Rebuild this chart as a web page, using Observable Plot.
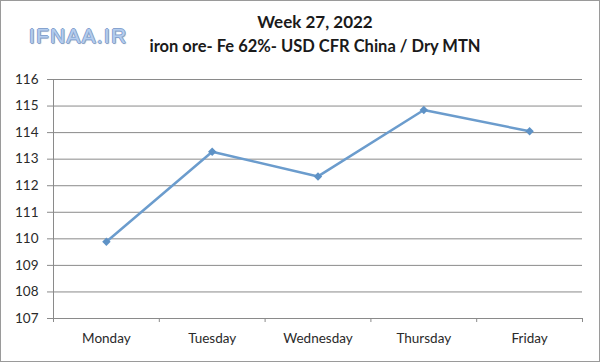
<!DOCTYPE html>
<html><head><meta charset="utf-8">
<script src="https://cdn.jsdelivr.net/npm/d3@7"></script>
<script src="https://cdn.jsdelivr.net/npm/@observablehq/plot@0.6"></script>
<style>
html,body{margin:0;padding:0;background:#fff;}
#wrap{position:relative;width:600px;height:362px;overflow:hidden;background:#fff;}
#frame{position:absolute;left:0;top:0;width:598px;height:360px;border:1px solid #9a9a9a;pointer-events:none;}
.t{position:absolute;font-family:Lato,"Open Sans",sans-serif;font-weight:bold;color:#1a1a1a;white-space:nowrap;}
#logo{position:absolute;left:29px;top:24px;font-family:"Liberation Sans",Arial,sans-serif;font-size:20.5px;color:#b4cdee;letter-spacing:1.5px;
text-shadow:-1px 0 #86a3cf,1px 0 #86a3cf,0 -1px #86a3cf,0 1px #86a3cf,1px 1px 1px #9ab;}
</style></head>
<body>
<div id="wrap">
<div id="chart"></div>
<div id="logo">IFNAA.IR</div>
<div class="t" id="title" style="left:0;width:630px;text-align:center;top:11px;font-size:17px;">Week 27, 2022</div>
<div class="t" id="sub" style="left:0;width:630px;text-align:center;top:36px;font-size:16.5px;">iron ore- Fe 62%- USD CFR China / Dry MTN</div>
<div id="frame"></div>
</div>
<script>
const days = ["Monday","Tuesday","Wednesday","Thursday","Friday"];
const prices = [109.89, 113.28, 112.35, 114.85, 114.05];
const yTicks = [107,108,109,110,111,112,113,114,115,116];

const data = days.map((d,i)=>({i, day:d, price:prices[i]}));
const idx = days.map((d,i)=>i);
const bounds = [...idx.map(i=>i-0.5), days.length-0.5];

const gray = "#8a8a8a";
const chart = Plot.plot({
  width:600, height:362,
  marginLeft:53, marginRight:18, marginTop:79, marginBottom:44,
  style:{fontFamily:"Lato, 'Open Sans', sans-serif", fontSize:"13.5px", color:"#2a2a2a", background:"transparent"},
  x:{type:"linear", domain:[-0.5, days.length-0.5]},
  y:{domain:[107,116]},
  marks:[
    Plot.gridY(yTicks.filter(v=>v>107), {stroke:gray, strokeOpacity:1, strokeWidth:1}),
    Plot.ruleY([107], {stroke:gray, strokeWidth:1}),
    Plot.ruleX([-0.5], {stroke:gray, strokeWidth:1}),
    Plot.axisY({ticks:yTicks, tickSize:6, tickPadding:9, stroke:gray, tickFormat:d=>d, label:null}),
    Plot.axisX({ticks:bounds, tickSize:4, tickFormat:()=>"", stroke:gray, label:null}),
    Plot.axisX({ticks:idx, tickSize:0, tickPadding:15, tickFormat:i=>days[i], label:null}),
    Plot.line(data, {x:"i", y:"price", stroke:"#6b9ccd", strokeWidth:2.5}),
    Plot.dot(data, {x:"i", y:"price", symbol:"diamond2", fill:"#5e92c6", r:3.8})
  ]
});
document.getElementById("chart").appendChild(chart);
</script>
</body></html>
